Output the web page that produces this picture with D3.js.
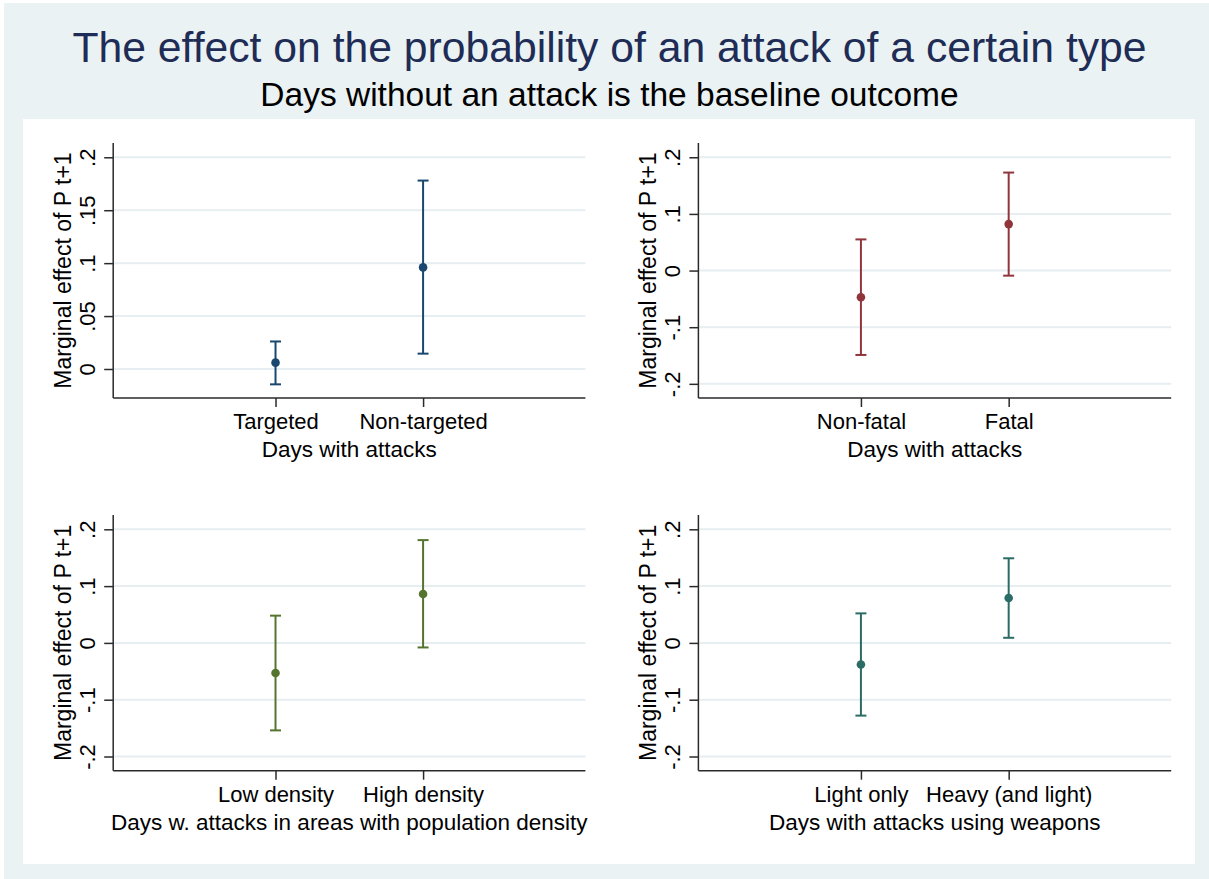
<!DOCTYPE html>
<html>
<head>
<meta charset="utf-8">
<script src="https://cdn.jsdelivr.net/npm/d3@7"></script>
<style>
  html, body { margin: 0; padding: 0; background: #ffffff; }
  svg { display: block; font-family: "Liberation Sans", Arial, Helvetica, sans-serif; }
</style>
</head>
<body>
<svg id="chart" width="1209" height="879"></svg>
<script>
// ---------------- data ----------------
const titleText = "The effect on the probability of an attack of a certain type";
const subtitleText = "Days without an attack is the baseline outcome";
const yAxisTitle = "Marginal effect of P t+1";

// Panel 1: targeted vs non-targeted
const catsTarget = ["Targeted", "Non-targeted"];
const estTarget = [0.006, 0.096];
const loTarget = [-0.0145, 0.0145];
const hiTarget = [0.026, 0.178];
const xTitleTarget = "Days with attacks";

// Panel 2: fatal vs non-fatal
const catsFatal = ["Non-fatal", "Fatal"];
const estFatal = [-0.047, 0.082];
const loFatal = [-0.149, -0.009];
const hiFatal = [0.055, 0.173];
const xTitleFatal = "Days with attacks";

// Panel 3: population density
const catsDensity = ["Low density", "High density"];
const estDensity = [-0.053, 0.086];
const loDensity = [-0.154, -0.008];
const hiDensity = [0.048, 0.181];
const xTitleDensity = "Days w. attacks in areas with population density";

// Panel 4: weapons
const catsWeapon = ["Light only", "Heavy (and light)"];
const estWeapon = [-0.038, 0.079];
const loWeapon = [-0.128, 0.009];
const hiWeapon = [0.052, 0.149];
const xTitleWeapon = "Days with attacks using weapons";

// y tick values and labels
const ticksSmall = [0, 0.05, 0.1, 0.15, 0.2];
const tickLabelsSmall = ["0", ".05", ".1", ".15", ".2"];
const ticksWide = [-0.2, -0.1, 0, 0.1, 0.2];
const tickLabelsWide = ["-.2", "-.1", "0", ".1", ".2"];

// y domains
const domainSmall = [-0.0274, 0.2135];
const domainWide = [-0.2250, 0.2252];

// colours
const colTarget = "#1a476f";
const colFatal = "#90353b";
const colDensity = "#55752f";
const colWeapon = "#2b6c66";

// ---------------- layout ----------------
const svg = d3.select("#chart");
const W = 1209, H = 879;

svg.append("rect").attr("x", 0).attr("y", 0).attr("width", W).attr("height", H).attr("fill", "#ffffff");
svg.append("rect").attr("x", 4).attr("y", 3).attr("width", W - 4).attr("height", H - 3).attr("fill", "#eaf2f3");
svg.append("rect").attr("x", 23).attr("y", 119).attr("width", 1172).attr("height", 745).attr("fill", "#ffffff");

svg.append("text")
  .attr("x", 609.5).attr("y", 62)
  .attr("text-anchor", "middle")
  .attr("font-size", 42.7)
  .attr("fill", "#1e2c56")
  .text(titleText);

svg.append("text")
  .attr("x", 609.5).attr("y", 106)
  .attr("text-anchor", "middle")
  .attr("font-size", 33.5)
  .attr("fill", "#000000")
  .text(subtitleText);

const panels = [
  { cats: catsTarget, est: estTarget, lo: loTarget, hi: hiTarget, xTitle: xTitleTarget,
    ticks: ticksSmall, labels: tickLabelsSmall, domain: domainSmall, color: colTarget,
    x0: 113.2, x1: 585.4, y0: 143, y1: 398 },
  { cats: catsFatal, est: estFatal, lo: loFatal, hi: hiFatal, xTitle: xTitleFatal,
    ticks: ticksWide, labels: tickLabelsWide, domain: domainWide, color: colFatal,
    x0: 698.4, x1: 1171.2, y0: 143, y1: 398 },
  { cats: catsDensity, est: estDensity, lo: loDensity, hi: hiDensity, xTitle: xTitleDensity,
    ticks: ticksWide, labels: tickLabelsWide, domain: domainWide, color: colDensity,
    x0: 113.2, x1: 585.4, y0: 515, y1: 770.7 },
  { cats: catsWeapon, est: estWeapon, lo: loWeapon, hi: hiWeapon, xTitle: xTitleWeapon,
    ticks: ticksWide, labels: tickLabelsWide, domain: domainWide, color: colWeapon,
    x0: 698.4, x1: 1171.2, y0: 515, y1: 770.7 }
];

const fontTick = 22;
const axisColor = "#2a2a2a";
const gridColor = "#e6eef1";

panels.forEach(p => {
  const g = svg.append("g");
  const y = d3.scaleLinear().domain(p.domain).range([p.y1, p.y0]);
  // categories placed at positions 1 and 2 on a 0..3 scale with padding
  const x = d3.scaleLinear().domain([-0.1, 3.1]).range([p.x0, p.x1]);
  const catPos = p.cats.map((c, i) => i + 1);

  // gridlines
  g.selectAll("line.grid").data(p.ticks).enter().append("line")
    .attr("x1", p.x0 + 1).attr("x2", p.x1)
    .attr("y1", d => y(d)).attr("y2", d => y(d))
    .attr("stroke", gridColor).attr("stroke-width", 2);

  // y axis
  const yAxis = d3.axisLeft(y).tickValues(p.ticks).tickSize(9).tickSizeOuter(0)
    .tickFormat((d, i) => p.labels[i]);
  const ya = g.append("g").attr("transform", `translate(${p.x0},0)`).call(yAxis);
  ya.select(".domain").attr("stroke", axisColor).attr("stroke-width", 1.5)
    .attr("d", `M0,${p.y0}V${p.y1}`);
  ya.selectAll(".tick line").attr("stroke", axisColor).attr("stroke-width", 1.5);
  ya.selectAll(".tick text")
    .attr("transform", "rotate(-90)")
    .attr("x", 0).attr("y", -18.5).attr("dy", 0)
    .attr("text-anchor", "middle")
    .attr("font-size", fontTick)
    .attr("font-family", "'Liberation Sans', Arial, sans-serif")
    .attr("fill", "#000");

  // x axis
  const xAxis = d3.axisBottom(x).tickValues(catPos).tickSize(9).tickSizeOuter(0)
    .tickFormat((d, i) => p.cats[i]);
  const xa = g.append("g").attr("transform", `translate(0,${p.y1})`).call(xAxis);
  xa.select(".domain").attr("stroke", axisColor).attr("stroke-width", 1.5)
    .attr("d", `M${p.x0},0H${p.x1}`);
  xa.selectAll(".tick line").attr("stroke", axisColor).attr("stroke-width", 1.5);
  xa.selectAll(".tick text")
    .attr("y", 31.3).attr("dy", 0)
    .attr("font-size", fontTick)
    .attr("font-family", "'Liberation Sans', Arial, sans-serif")
    .attr("fill", "#000");

  // axis titles
  g.append("text")
    .attr("transform", `translate(${p.x0 - 42.5},${(p.y0 + p.y1) / 2}) rotate(-90)`)
    .attr("text-anchor", "middle")
    .attr("font-size", 23)
    .attr("fill", "#000")
    .text(yAxisTitle);

  g.append("text")
    .attr("x", (p.x0 + p.x1) / 2).attr("y", p.y1 + 59.3)
    .attr("text-anchor", "middle")
    .attr("font-size", 22.5)
    .attr("fill", "#000")
    .text(p.xTitle);

  // error bars
  const rows = p.cats.map((c, i) => ({ pos: catPos[i], est: p.est[i], lo: p.lo[i], hi: p.hi[i] }));
  const eb = g.selectAll("g.eb").data(rows).enter().append("g");
  eb.append("line")
    .attr("x1", d => x(d.pos)).attr("x2", d => x(d.pos))
    .attr("y1", d => y(d.lo)).attr("y2", d => y(d.hi))
    .attr("stroke", p.color).attr("stroke-width", 2);
  eb.append("line")
    .attr("x1", d => x(d.pos) - 5.5).attr("x2", d => x(d.pos) + 5.5)
    .attr("y1", d => y(d.hi)).attr("y2", d => y(d.hi))
    .attr("stroke", p.color).attr("stroke-width", 2);
  eb.append("line")
    .attr("x1", d => x(d.pos) - 5.5).attr("x2", d => x(d.pos) + 5.5)
    .attr("y1", d => y(d.lo)).attr("y2", d => y(d.lo))
    .attr("stroke", p.color).attr("stroke-width", 2);
  eb.append("circle")
    .attr("cx", d => x(d.pos)).attr("cy", d => y(d.est))
    .attr("r", 4.3)
    .attr("fill", p.color);
});
</script>
</body>
</html>
